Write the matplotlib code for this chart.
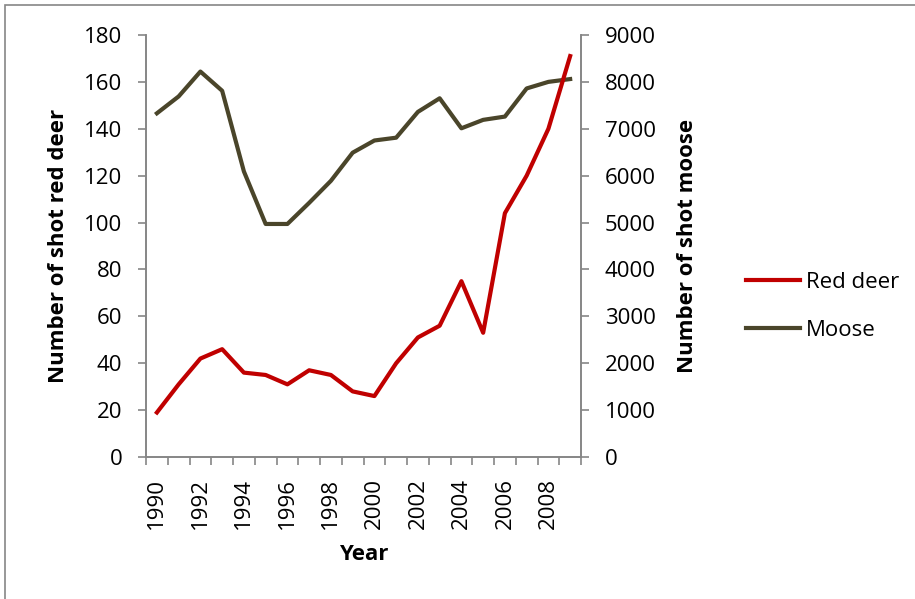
import matplotlib.pyplot as plt
import numpy as np
from matplotlib.patches import Rectangle

plt.rcParams['font.family'] = ['Open Sans', 'DejaVu Sans']

years = list(range(1990, 2010))
red_deer = [19, 31, 42, 46, 36, 35, 31, 37, 35, 28, 26, 40, 51, 56, 75, 53, 104, 120, 140, 171]
moose = [7330, 7690, 8220, 7810, 6090, 4970, 4970, 5420, 5890, 6490, 6750, 6810, 7360, 7650, 7010,
         7190, 7260, 7860, 8000, 8060]
year_labels = [str(y) if y % 2 == 0 else '' for y in years]

grey = '#868686'
fig = plt.figure(figsize=(9.15, 5.99), dpi=100)
fig.patches.append(Rectangle((0.006, -0.1), 1.2, 1.092, transform=fig.transFigure,
                             fill=False, edgecolor=grey, linewidth=1.2))

ax = fig.add_axes([0.1596, 0.237, 0.4754, 0.7046])
ax2 = ax.twinx()

x = np.arange(len(years)) + 0.5
ax.plot(x, red_deer, color='#C00000', linewidth=3, label='Red deer', zorder=3)
ax2.plot(x, moose, color='#4A452A', linewidth=3, label='Moose')
ax.set_zorder(ax2.get_zorder() + 1)
ax.patch.set_visible(False)

ax.set_xlim(0, len(years))
ax.set_ylim(0, 180)
ax2.set_ylim(0, 9000)
ax.set_yticks(np.arange(0, 181, 20))
ax2.set_yticks(np.arange(0, 9001, 1000))

ax.set_xticks(np.arange(len(years) + 1))
ax.set_xticklabels([])
ax.set_xticks(x, minor=True)
ax.set_xticklabels(year_labels, minor=True, rotation=90)
ax.tick_params(axis='x', which='minor', length=0, pad=15, labelsize=16)
ax.tick_params(axis='x', which='major', length=6, color=grey, width=1.2)
ax.tick_params(axis='y', length=6, color=grey, width=1.2, labelsize=16, pad=11)
ax2.tick_params(axis='y', length=6, color=grey, width=1.2, labelsize=16, pad=11)

for a in (ax, ax2):
    a.spines['top'].set_visible(False)
    for s in ('left', 'right', 'bottom'):
        a.spines[s].set_color(grey)
        a.spines[s].set_linewidth(1.2)

ax.set_xlabel('Year', fontsize=16, fontweight='bold')
ax.set_ylabel('Number of shot red deer', fontsize=16, fontweight='bold')
ax2.set_ylabel('Number of shot moose', fontsize=16, fontweight='bold')
ax.xaxis.set_label_coords(0.5, -0.205)
ax.yaxis.set_label_coords(-0.177, 0.5)
ax2.yaxis.set_label_coords(1.221, 0.5)

h1, l1 = ax.get_legend_handles_labels()
h2, l2 = ax2.get_legend_handles_labels()
fig.legend(h1 + h2, l1 + l2, loc='center left', bbox_to_anchor=(0.7935, 0.488),
           frameon=False, fontsize=16, handlelength=2.45, handletextpad=0.25, labelspacing=1.22)

fig.savefig('out.png', dpi=100)
